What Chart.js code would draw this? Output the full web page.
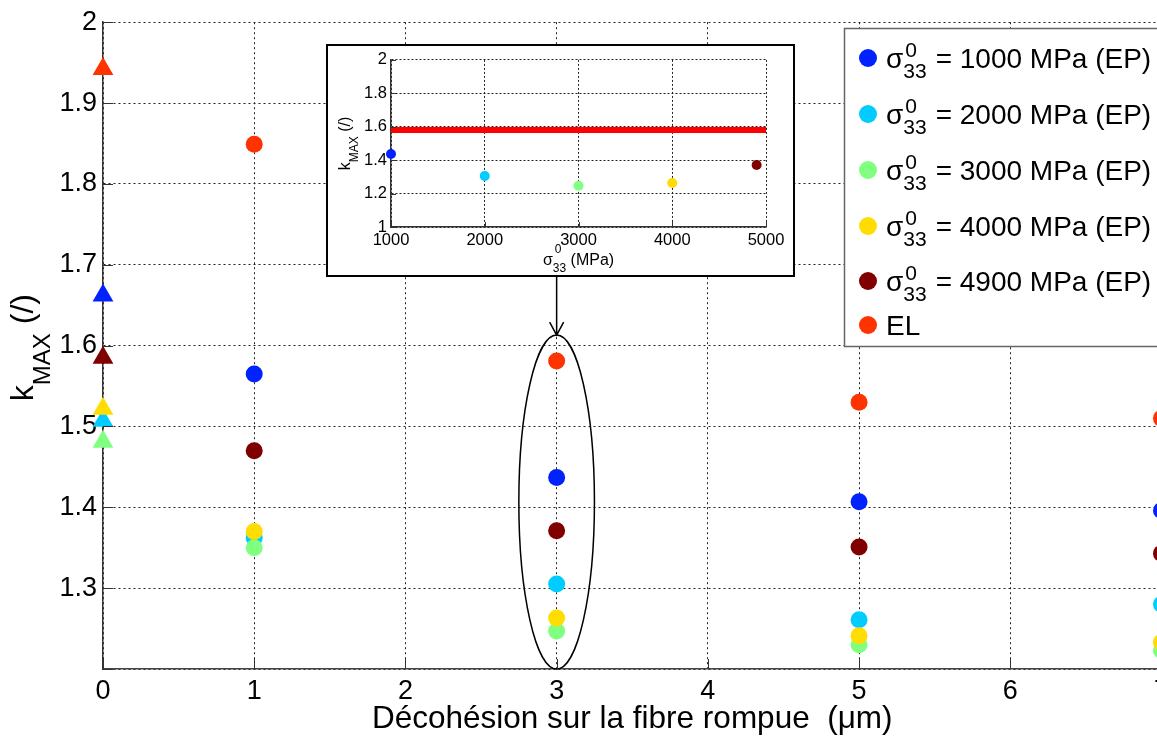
<!DOCTYPE html>
<html>
<head>
<meta charset="utf-8">
<script src="https://cdn.jsdelivr.net/npm/chart.js@4.4.0/dist/chart.umd.min.js"></script>
<style>
  html, body { margin: 0; padding: 0; background: #fff; overflow: hidden; }
  #main { position: absolute; left: 0; top: 0; }
  #insetBox { position: absolute; left: 326px; top: 44px; width: 465px; height: 229px;
              border: 2px solid #000; background: #fff; }
</style>
</head>
<body>
<canvas id="main" width="1175" height="736"></canvas>
<div id="insetBox"><canvas id="inset" width="465" height="229"></canvas></div>

<script>
// ================= DATA =================
const debonding = [0, 1, 3, 5, 7];                 // µm
const sigmaLevels = [1000, 2000, 3000, 4000, 4900]; // MPa

const kEP1000 = [1.662, 1.565, 1.437, 1.407, 1.396];
const kEP2000 = [1.507, 1.362, 1.305, 1.261, 1.280];
const kEP3000 = [1.481, 1.350, 1.247, 1.230, 1.223];
const kEP4000 = [1.522, 1.370, 1.263, 1.241, 1.233];
const kEP4900 = [1.585, 1.470, 1.371, 1.351, 1.343];
const kEL     = [1.942, 1.849, 1.581, 1.530, 1.510];

const xTicks = [0, 1, 2, 3, 4, 5, 6, 7];
const xTickLabels = ["0", "1", "2", "3", "4", "5", "6", "7"];
const yTicks = [1.2, 1.3, 1.4, 1.5, 1.6, 1.7, 1.8, 1.9, 2];
const yTickLabels = ["", "1.3", "1.4", "1.5", "1.6", "1.7", "1.8", "1.9", "2"];

const insetXTicks = [1000, 2000, 3000, 4000, 5000];
const insetXTickLabels = ["1000", "2000", "3000", "4000", "5000"];
const insetYTicks = [1, 1.2, 1.4, 1.6, 1.8, 2];
const insetYTickLabels = ["1", "1.2", "1.4", "1.6", "1.8", "2"];

// circled column, shown again in the inset
const zoomDebonding = 3;
const ellipseHalfWidth = 0.25;
const ellipseTop = 1.613;

const FONT = '"Liberation Sans", Arial, sans-serif';
const colors = ["#0022ff", "#00ccff", "#80ff80", "#ffdd00", "#800000"];
const elColor = "#ff3300";
const epSeries = [kEP1000, kEP2000, kEP3000, kEP4000, kEP4900];

Chart.defaults.font.family = FONT;
Chart.defaults.color = "#000";

// ================= MAIN CHART =================
const datasets = epSeries.map((vals, i) => ({
  label: sigmaLevels[i] + " MPa (EP)",
  data: debonding.map((d, j) => ({ x: d, y: vals[j] })),
  backgroundColor: colors[i],
  borderColor: colors[i],
  borderWidth: 0,
  pointStyle: debonding.map(d => d === 0 ? "triangle" : "circle"),
  pointRadius: debonding.map(d => d === 0 ? 12 : 8.5),
  showLine: false,
  clip: false,
  order: 6 - i
}));
datasets.push({
  label: "EL",
  data: debonding.map((d, j) => ({ x: d, y: kEL[j] })),
  backgroundColor: elColor,
  borderColor: elColor,
  borderWidth: 0,
  pointStyle: debonding.map(d => d === 0 ? "triangle" : "circle"),
  pointRadius: debonding.map(d => d === 0 ? 12 : 8.5),
  showLine: false,
  clip: false,
  order: 0
});

function drawSigma(ctx, x, base, size, subSize, supLift, subDrop) {
  ctx.font = size + "px " + FONT;
  ctx.textAlign = "left";
  ctx.fillText("σ", x, base);
  const sx = x + ctx.measureText("σ").width;
  ctx.font = subSize + "px " + FONT;
  ctx.fillText("0", sx + 2, base - supLift);
  ctx.fillText("33", sx, base + subDrop);
  return sx + Math.max(ctx.measureText("0").width + 2, ctx.measureText("33").width) - x;
}

function drawKmax(ctx, cx, cy, size, subSize, drop) {
  ctx.save();
  ctx.translate(cx, cy);
  ctx.rotate(-Math.PI / 2);
  ctx.textAlign = "left";
  ctx.textBaseline = "alphabetic";
  ctx.font = size + "px " + FONT;
  const wk = ctx.measureText("k").width;
  const wr = ctx.measureText(" (/)").width;
  ctx.font = subSize + "px " + FONT;
  const ws = ctx.measureText("MAX").width;
  let x = -(wk + ws + wr) / 2;
  ctx.font = size + "px " + FONT;
  ctx.fillText("k", x, 0);
  ctx.font = subSize + "px " + FONT;
  ctx.fillText("MAX", x + wk, drop);
  ctx.font = size + "px " + FONT;
  ctx.fillText(" (/)", x + wk + ws, 0);
  ctx.restore();
}

function innerTicks(chart, len, color) {
  const { ctx, chartArea: a, scales: { x, y } } = chart;
  ctx.save();
  ctx.strokeStyle = color;
  ctx.lineWidth = 1;
  ctx.beginPath();
  x.ticks.forEach(t => {
    const px = Math.round(x.getPixelForValue(t.value)) + 0.5;
    ctx.moveTo(px, a.bottom); ctx.lineTo(px, a.bottom - len);
  });
  y.ticks.forEach(t => {
    const py = Math.round(y.getPixelForValue(t.value)) + 0.5;
    ctx.moveTo(a.left, py); ctx.lineTo(a.left + len, py);
  });
  ctx.stroke();
  ctx.restore();
}

const mainDecor = {
  id: "mainDecor",
  afterDatasetsDraw(chart) {
    const { ctx, scales: { x, y } } = chart;
    // ellipse round the x = 3 column
    const cx = x.getPixelForValue(zoomDebonding);
    const rx = x.getPixelForValue(zoomDebonding + ellipseHalfWidth) - cx;
    const yTop = y.getPixelForValue(ellipseTop);
    const yBot = y.getPixelForValue(yTicks[0]);
    ctx.save();
    ctx.strokeStyle = "#000";
    ctx.lineWidth = 1.5;
    ctx.beginPath();
    ctx.ellipse(cx, (yTop + yBot) / 2, rx, (yBot - yTop) / 2, 0, 0, Math.PI * 2);
    ctx.stroke();
    // arrow from the inset down to the ellipse
    ctx.beginPath();
    ctx.moveTo(cx, 277);
    ctx.lineTo(cx, yTop);
    ctx.moveTo(cx - 7, yTop - 13);
    ctx.lineTo(cx, yTop);
    ctx.lineTo(cx + 7, yTop - 13);
    ctx.stroke();
    ctx.restore();
  },
  afterDraw(chart) {
    const { ctx, chartArea: a } = chart;
    innerTicks(chart, 10, "#333");

    ctx.save();
    ctx.fillStyle = "#000";
    // y title
    drawKmax(ctx, 33, (a.top + a.bottom) / 2 + 2, 32, 24, 17);
    // x title
    ctx.font = "31.5px " + FONT;
    ctx.textAlign = "center";
    ctx.textBaseline = "alphabetic";
    ctx.fillText("Décohésion sur la fibre rompue  (μm)", (a.left + a.right) / 2, 728);

    // legend
    const lx = 844, ly = 28, lw = 330, lh = 318;
    ctx.fillStyle = "#fff";
    ctx.fillRect(lx, ly, lw, lh);
    ctx.strokeStyle = "#666";
    ctx.lineWidth = 1.5;
    ctx.strokeRect(lx + 0.5, ly + 0.5, lw, lh);
    const rows = [58, 114, 170, 226, 281, 325];
    const labels = chart.data.datasets;
    rows.forEach((ry, i) => {
      const ds = labels[i];
      ctx.fillStyle = ds.backgroundColor;
      ctx.beginPath();
      ctx.arc(868, ry, 9, 0, Math.PI * 2);
      ctx.fill();
      ctx.fillStyle = "#000";
      ctx.textBaseline = "alphabetic";
      ctx.textAlign = "left";
      if (i < sigmaLevels.length) {
        const w = drawSigma(ctx, 886, ry + 10, 28, 21, 11, 10);
        ctx.font = "28px " + FONT;
        ctx.fillText("= " + ds.label, 886 + w + 9, ry + 10);
      } else {
        ctx.font = "28px " + FONT;
        ctx.fillText(ds.label, 886, ry + 10);
      }
    });
    ctx.restore();
  }
};

new Chart(document.getElementById("main"), {
  type: "scatter",
  data: { datasets },
  options: {
    responsive: false,
    animation: false,
    devicePixelRatio: 1,
    layout: { padding: { top: 22, right: 13, left: 0, bottom: 0 } },
    plugins: { legend: { display: false }, tooltip: { enabled: false } },
    scales: {
      x: {
        type: "linear",
        min: xTicks[0], max: xTicks[xTicks.length - 1],
        afterBuildTicks: s => { s.ticks = xTicks.map(v => ({ value: v })); },
        afterFit: s => { s.height = 67; },
        ticks: {
          font: { size: 27 }, color: "#000", padding: 6, maxRotation: 0,
          callback: (v, i) => xTickLabels[i]
        },
        grid: { color: "#222", lineWidth: 1, drawTicks: false },
        border: { display: true, color: "#444", width: 1.5, dash: [2, 3] }
      },
      y: {
        type: "linear",
        min: yTicks[0], max: yTicks[yTicks.length - 1],
        afterBuildTicks: s => { s.ticks = yTicks.map(v => ({ value: v })); },
        afterFit: s => { s.width = 103; },
        ticks: {
          font: { size: 27 }, color: "#000", padding: 6,
          callback: (v, i) => yTickLabels[i]
        },
        grid: { color: "#222", lineWidth: 1, drawTicks: false },
        border: { display: true, color: "#333", width: 1.5, dash: [2, 3] }
      }
    }
  },
  plugins: [mainDecor]
});

// ================= INSET =================
const zi = debonding.indexOf(zoomDebonding);
const insetSets = epSeries.map((vals, i) => ({
  data: [{ x: sigmaLevels[i], y: vals[zi] }],
  backgroundColor: colors[i],
  borderWidth: 0,
  pointRadius: 5,
  showLine: false,
  clip: false
}));
insetSets.push({
  type: "line",
  data: [
    { x: insetXTicks[0], y: kEL[zi] },
    { x: insetXTicks[insetXTicks.length - 1], y: kEL[zi] }
  ],
  borderColor: "#ff0000",
  borderWidth: 6,
  pointRadius: 0,
  clip: false
});

const insetDecor = {
  id: "insetDecor",
  afterDraw(chart) {
    const { ctx, chartArea: a } = chart;
    innerTicks(chart, 5, "#333");
    ctx.save();
    ctx.fillStyle = "#000";
    drawKmax(ctx, 22, (a.top + a.bottom) / 2, 16, 12, 8);
    // x title: sigma_33^0 (MPa)
    ctx.font = "16px " + FONT;
    const wSig = ctx.measureText("σ").width;
    ctx.font = "12px " + FONT;
    const wSub = ctx.measureText("33").width;
    ctx.font = "16px " + FONT;
    const wRest = ctx.measureText(" (MPa)").width;
    const x0 = (a.left + a.right) / 2 - (wSig + wSub + wRest) / 2;
    const w = drawSigma(ctx, x0, 219, 16, 12, 12, 7);
    ctx.font = "16px " + FONT;
    ctx.fillText(" (MPa)", x0 + w, 219);
    ctx.restore();
  }
};

new Chart(document.getElementById("inset"), {
  type: "scatter",
  data: { datasets: insetSets },
  options: {
    responsive: false,
    animation: false,
    devicePixelRatio: 1,
    layout: { padding: { top: 11, right: 27, left: 0, bottom: 0 } },
    plugins: { legend: { display: false }, tooltip: { enabled: false } },
    scales: {
      x: {
        type: "linear",
        min: insetXTicks[0], max: insetXTicks[insetXTicks.length - 1],
        afterBuildTicks: s => { s.ticks = insetXTicks.map(v => ({ value: v })); },
        afterFit: s => { s.height = 48; },
        ticks: { font: { size: 16.5 }, color: "#000", padding: 4, maxRotation: 0,
                 callback: (v, i) => insetXTickLabels[i] },
        grid: { color: "#222", lineWidth: 1, drawTicks: false },
        border: { display: true, color: "#333", width: 1.5, dash: [2, 2] }
      },
      y: {
        type: "linear",
        min: insetYTicks[0], max: insetYTicks[insetYTicks.length - 1],
        afterBuildTicks: s => { s.ticks = insetYTicks.map(v => ({ value: v })); },
        afterFit: s => { s.width = 63; },
        ticks: { font: { size: 16.5 }, color: "#000", padding: 4,
                 callback: (v, i) => insetYTickLabels[i] },
        grid: { color: "#222", lineWidth: 1, drawTicks: false },
        border: { display: true, color: "#333", width: 1.5, dash: [2, 2] }
      }
    }
  },
  plugins: [insetDecor]
});
</script>
</body>
</html>
